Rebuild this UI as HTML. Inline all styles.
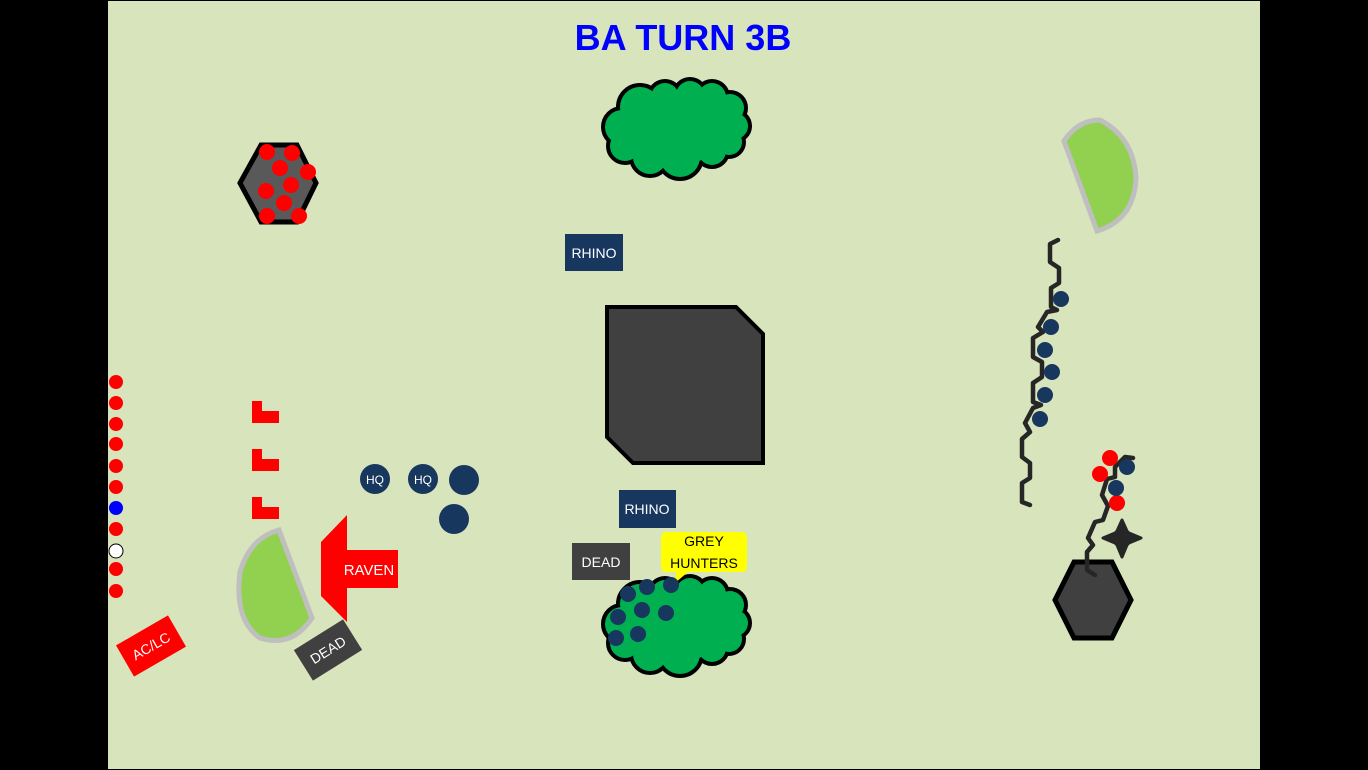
<!DOCTYPE html>
<html><head><meta charset="utf-8"><style>
html,body{margin:0;padding:0;background:#000;}
svg{display:block;}
text{font-family:"Liberation Sans",sans-serif;}
</style></head><body>
<svg width="1368" height="770" viewBox="0 0 1368 770" xmlns="http://www.w3.org/2000/svg">
<defs>
<g id="cloud">
<circle cx="622" cy="127" r="17"/><circle cx="640" cy="107" r="20"/><circle cx="665" cy="97" r="14"/>
<circle cx="690" cy="95" r="14"/><circle cx="712" cy="97" r="14"/><circle cx="730" cy="108" r="14"/>
<circle cx="735" cy="126" r="13"/><circle cx="729" cy="142" r="13"/><circle cx="712" cy="151" r="14"/>
<circle cx="680" cy="157" r="20"/><circle cx="650" cy="157" r="17"/><circle cx="625" cy="146" r="15"/>
<ellipse cx="678" cy="128" rx="52" ry="36"/>
</g>
</defs>
<rect x="0" y="0" width="1368" height="770" fill="#000"/>
<rect x="108" y="1" width="1152" height="768" fill="#d8e4bc"/>
<text x="683" y="50" text-anchor="middle" font-size="36" font-weight="bold" fill="#0000ff">BA TURN 3B</text>

<g fill="#000" stroke="#000" stroke-width="8"><use href="#cloud"/></g>
<g fill="#00b050"><use href="#cloud"/></g>
<g transform="translate(0,497)">
<g fill="#000" stroke="#000" stroke-width="8"><use href="#cloud"/></g>
<g fill="#00b050"><use href="#cloud"/></g>
</g>

<polygon points="240,183 261,145 297,145 316,183 297,222 261,222" fill="#595959" stroke="#000" stroke-width="5"/>
<g fill="#ff0000">
<circle cx="267" cy="152" r="8"/><circle cx="292" cy="153" r="8"/><circle cx="280" cy="168" r="8"/>
<circle cx="308" cy="172" r="8"/><circle cx="291" cy="185" r="8"/><circle cx="266" cy="191" r="8"/>
<circle cx="284" cy="203" r="8"/><circle cx="267" cy="216" r="8"/><circle cx="299" cy="216" r="8"/>
</g>

<polygon points="607,307 736,307 763,334 763,463 633,463 607,437" fill="#404040" stroke="#000" stroke-width="4"/>

<rect x="565" y="234" width="58" height="37" fill="#17375e"/>
<text x="594" y="258" text-anchor="middle" font-size="14" fill="#fff">RHINO</text>
<rect x="619" y="490" width="57" height="38" fill="#17375e"/>
<text x="647" y="514" text-anchor="middle" font-size="14" fill="#fff">RHINO</text>
<rect x="572" y="543" width="58" height="37" fill="#404040"/>
<text x="601" y="567" text-anchor="middle" font-size="14" fill="#fff">DEAD</text>
<path d="M667,532 H741 Q747,532 747,538 V566 Q747,572 741,572 H688 L675,583 L676,572 H667 Q661,572 661,566 V538 Q661,532 667,532 Z" fill="#ffff00"/>
<text x="704" y="546" text-anchor="middle" font-size="14" fill="#000">GREY</text>
<text x="704" y="568" text-anchor="middle" font-size="14" fill="#000">HUNTERS</text>

<g fill="#17375e">
<circle cx="628" cy="594" r="8"/><circle cx="647" cy="587" r="8"/><circle cx="671" cy="585" r="8"/>
<circle cx="618" cy="617" r="8"/><circle cx="642" cy="610" r="8"/><circle cx="666" cy="613" r="8"/>
<circle cx="616" cy="638" r="8"/><circle cx="638" cy="634" r="8"/>
</g>

<g fill="#ff0000">
<circle cx="116" cy="382" r="7"/><circle cx="116" cy="403" r="7"/><circle cx="116" cy="424" r="7"/>
<circle cx="116" cy="444" r="7"/><circle cx="116" cy="466" r="7"/><circle cx="116" cy="487" r="7"/>
<circle cx="116" cy="529" r="7"/><circle cx="116" cy="569" r="7"/><circle cx="116" cy="591" r="7"/>
</g>
<circle cx="116" cy="508" r="7" fill="#0000ff"/>
<circle cx="116" cy="551" r="7" fill="#fff" stroke="#000" stroke-width="1"/>

<g fill="#ff0000">
<path d="M252,401 H262 V411 H279 V423 H252 Z"/>
<path d="M252,449 H262 V459 H279 V471 H252 Z"/>
<path d="M252,497 H262 V507 H279 V519 H252 Z"/>
</g>

<circle cx="375" cy="479" r="15" fill="#17375e"/><text x="375" y="484" text-anchor="middle" font-size="12" fill="#fff">HQ</text>
<circle cx="423" cy="479" r="15" fill="#17375e"/><text x="423" y="484" text-anchor="middle" font-size="12" fill="#fff">HQ</text>
<circle cx="464" cy="480" r="15" fill="#17375e"/>
<circle cx="454" cy="519" r="15" fill="#17375e"/>

<path d="M279,530 L312,618 Q292,648 260,638 Q234,620 240,572 Q250,538 279,530 Z" fill="#92d050" stroke="#bfbfbf" stroke-width="5"/>
<path d="M1064,141 Q1078,120 1100,120 Q1134,138 1136,178 Q1134,220 1097,231 Z" fill="#92d050" stroke="#bfbfbf" stroke-width="5"/>

<polygon points="321,542 347,515 347,550 398,550 398,588 347,588 347,622 321,596" fill="#ff0000"/>
<text x="369" y="575" text-anchor="middle" font-size="15" fill="#fff">RAVEN</text>

<g transform="translate(328,650) rotate(-32)"><rect x="-29" y="-18" width="58" height="36" fill="#404040"/><text x="0" y="5" text-anchor="middle" font-size="14" fill="#fff">DEAD</text></g>
<g transform="translate(151,646) rotate(-30)"><rect x="-30" y="-18" width="60" height="36" fill="#ff0000"/><text x="0" y="5" text-anchor="middle" font-size="14" fill="#fff">AC/LC</text></g>

<polyline points="1058,240 1050,244 1050,262 1059,268 1059,283 1051,288 1051,307 1057,310 1047,312 1038,327 1043,332 1033,338 1033,357 1042,362 1042,377 1033,383 1033,402 1041,405 1033,408 1025,423 1030,432 1022,439 1022,457 1030,463 1030,478 1022,483 1022,502 1030,505" fill="none" stroke="#262626" stroke-width="4.5" stroke-linejoin="round" stroke-linecap="round"/>
<g fill="#17375e">
<circle cx="1061" cy="299" r="8"/><circle cx="1051" cy="327" r="8"/><circle cx="1045" cy="350" r="8"/>
<circle cx="1052" cy="372" r="8"/><circle cx="1045" cy="395" r="8"/><circle cx="1040" cy="419" r="8"/>
</g>

<polygon points="1055,600 1074,562 1112,562 1131,600 1112,638 1074,638" fill="#404040" stroke="#000" stroke-width="5"/>
<polyline points="1133,458 1125,457 1115,467 1115,477 1107,479 1102,495 1108,506 1103,520 1095,522 1088,538 1093,545 1087,552 1087,570 1095,575" fill="none" stroke="#262626" stroke-width="4.5" stroke-linejoin="round" stroke-linecap="round"/>
<g fill="#ff0000"><circle cx="1110" cy="458" r="8"/><circle cx="1100" cy="474" r="8"/><circle cx="1117" cy="503" r="8"/></g>
<g fill="#17375e"><circle cx="1127" cy="467" r="8"/><circle cx="1116" cy="488" r="8"/></g>
<path d="M1122,520 L1127,531 L1129,533 L1141,538 L1129,543 L1127,545 L1122,557 L1117,545 L1115,543 L1103,538 L1115,533 L1117,531 Z" fill="#262626" stroke="#262626" stroke-width="3" stroke-linejoin="round"/>
<rect x="1115" y="531" width="14" height="14" fill="#262626"/>
</svg>
</body></html>
